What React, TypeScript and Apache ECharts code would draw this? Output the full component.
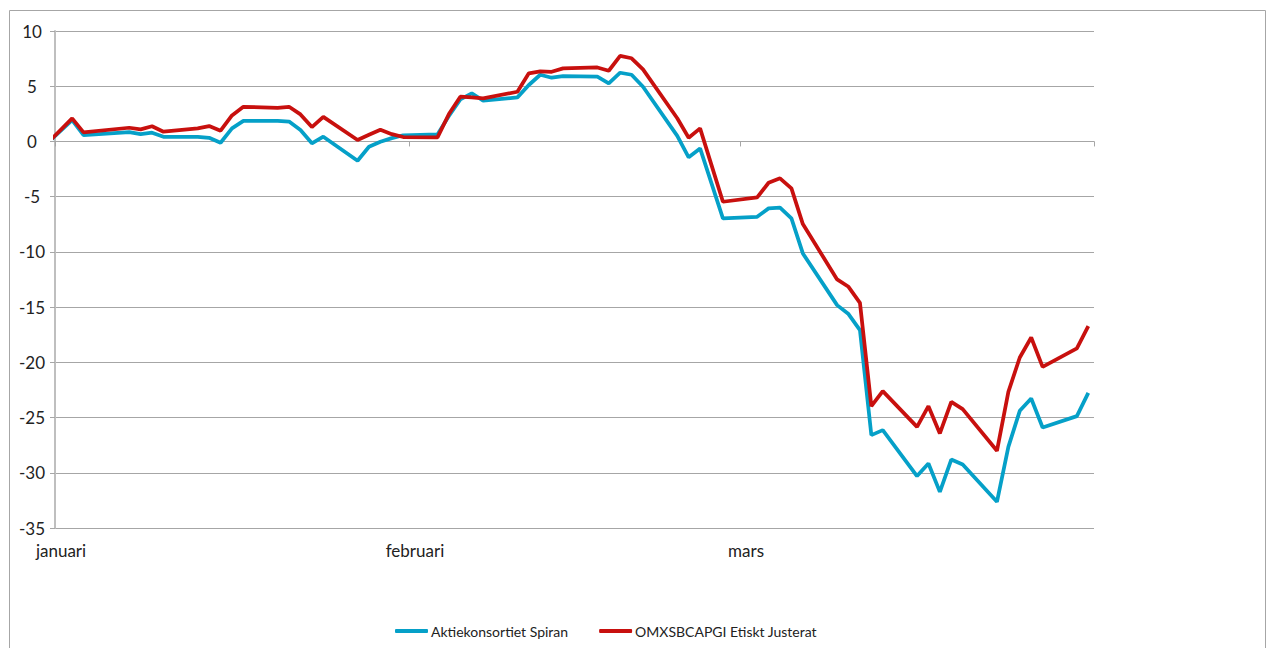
import React, { useEffect, useRef } from 'react';
import * as echarts from 'echarts';

const monthLabels = ['januari', 'februari', 'mars'];

const dates = [
  '2019-12-31',
  '2020-01-02', '2020-01-03', '2020-01-07', '2020-01-08', '2020-01-09', '2020-01-10',
  '2020-01-13', '2020-01-14', '2020-01-15', '2020-01-16', '2020-01-17',
  '2020-01-20', '2020-01-21', '2020-01-22', '2020-01-23', '2020-01-24',
  '2020-01-27', '2020-01-28', '2020-01-29', '2020-01-30', '2020-01-31',
  '2020-02-03', '2020-02-04', '2020-02-05', '2020-02-06', '2020-02-07',
  '2020-02-10', '2020-02-11', '2020-02-12', '2020-02-13', '2020-02-14',
  '2020-02-17', '2020-02-18', '2020-02-19', '2020-02-20', '2020-02-21',
  '2020-02-24', '2020-02-25', '2020-02-26', '2020-02-27', '2020-02-28',
  '2020-03-02', '2020-03-03', '2020-03-04', '2020-03-05', '2020-03-06',
  '2020-03-09', '2020-03-10', '2020-03-11', '2020-03-12', '2020-03-13',
  '2020-03-16', '2020-03-17', '2020-03-18', '2020-03-19', '2020-03-20',
  '2020-03-23', '2020-03-24', '2020-03-25', '2020-03-26', '2020-03-27',
  '2020-03-30', '2020-03-31',
];

const spiran = [
  0,
  1.94, 0.58, 0.85, 0.67, 0.79, 0.42,
  0.42, 0.33, -0.12, 1.18, 1.86,
  1.86, 1.8, 1.03, -0.17, 0.43,
  -1.75, -0.48, -0.03, 0.3, 0.56,
  0.64, 2.3, 3.81, 4.36, 3.69,
  3.99, 5.11, 6.04, 5.77, 5.92,
  5.86, 5.26, 6.22, 6.04, 4.95,
  0.5, -1.44, -0.63, -3.8, -6.97,
  -6.82, -6.06, -6.0, -6.97, -10.14,
  -14.82, -15.63, -17.08, -26.59, -26.14,
  -30.3, -29.16, -31.73, -28.8, -29.25,
  -32.63, -27.65, -24.39, -23.27, -25.9,
  -24.87, -22.76,
];

const omxEtisk = [
  0,
  2.09, 0.82, 1.24, 1.09, 1.37, 0.88,
  1.18, 1.39, 0.97, 2.36, 3.14,
  3.05, 3.14, 2.45, 1.3, 2.22,
  0.13, 0.6, 1.06, 0.66, 0.4,
  0.37, 2.48, 4.05, 3.99, 3.9,
  4.5, 6.17, 6.35, 6.31, 6.62,
  6.7, 6.4, 7.74, 7.53, 6.53,
  2.1, 0.34, 1.18, -2.14, -5.46,
  -5.07, -3.74, -3.34, -4.25, -7.48,
  -12.49, -13.16, -14.61, -23.97, -22.61,
  -25.84, -23.97, -26.44, -23.58, -24.24,
  -28.01, -22.67, -19.56, -17.75, -20.41,
  -18.74, -16.72,
];

const seriesNames = ['Aktiekonsortiet Spiran', 'OMXSBCAPGI Etiskt Justerat'];

const yMin = -35;
const yMax = 10;
const yStep = 5;

const DAY = 86400000;
const origin = Date.UTC(2020, 0, 1);
// days since 1 Jan 2020; a day's point sits in the middle of its slot
const dayPos = (s: string) => {
  const [y, m, d] = s.split('-').map(Number);
  return (Date.UTC(y, m - 1, d) - origin) / DAY + 0.5;
};
const monthStart = (m: number) => (Date.UTC(2020, m, 1) - origin) / DAY;

export default function App() {
  const ref = useRef<HTMLDivElement>(null);

  useEffect(() => {
    const chart = echarts.init(ref.current!, null, { renderer: 'svg' });
    const monthStarts = [0, 1, 2, 3].map(monthStart);
    const font = 'Lato';

    chart.setOption({
      animation: false,
      backgroundColor: '#ffffff',
      graphic: [
        {
          type: 'rect',
          shape: { x: 9.5, y: 10.5, width: 1256, height: 700 },
          style: { fill: 'none', stroke: '#a6a6a6', lineWidth: 1 },
          silent: true,
          z: -10,
        },
      ],
      grid: { left: 55, top: 31, width: 1039, height: 497, containLabel: false },
      legend: {
        left: 390,
        top: 619,
        itemWidth: 33,
        itemHeight: 4,
        itemGap: 31,
        icon: 'roundRect',
        textStyle: { fontFamily: font, fontSize: 14, color: '#222', padding: [0, 0, 0, -2] },
        data: seriesNames,
      },
      xAxis: [
        {
          type: 'value',
          min: monthStarts[0],
          max: monthStarts[3],
          axisLine: { show: true, onZero: true, lineStyle: { color: '#a6a6a6', width: 1 } },
          axisTick: {
            show: true,
            length: 5,
            customValues: monthStarts,
            lineStyle: { color: '#a6a6a6' },
          },
          axisLabel: { show: false },
          splitLine: { show: false },
        },
        {
          type: 'value',
          min: monthStarts[0],
          max: monthStarts[3],
          position: 'bottom',
          axisLine: { show: false, onZero: false },
          axisTick: { show: false },
          splitLine: { show: false },
          axisLabel: {
            show: true,
            customValues: monthStarts.slice(0, 3),
            margin: 14,
            fontFamily: font,
            fontSize: 17,
            color: '#222',
            padding: [0, 0, 0, 12],
            formatter: (v: number) => {
              const i = monthStarts.indexOf(v);
              return i >= 0 && i < monthLabels.length ? monthLabels[i] : '';
            },
          },
        },
      ],
      yAxis: {
        type: 'value',
        min: yMin,
        max: yMax,
        interval: yStep,
        axisLine: { show: true, lineStyle: { color: '#bfbfbf', width: 2 } },
        axisTick: { show: true, length: 5, lineStyle: { color: '#a6a6a6' } },
        splitLine: { show: true, lineStyle: { color: '#a6a6a6', width: 1 } },
        axisLabel: {
          fontFamily: font,
          fontSize: 17,
          color: '#222',
          align: 'center',
          margin: 23,
        },
      },
      series: [
        {
          name: seriesNames[0],
          type: 'line',
          xAxisIndex: 0,
          symbol: 'none',
          clip: true,
          color: '#05a0c8',
          lineStyle: { width: 3.75, color: '#05a0c8' },
          data: dates.map((d, i) => [dayPos(d), spiran[i]]),
        },
        {
          name: seriesNames[1],
          type: 'line',
          xAxisIndex: 0,
          symbol: 'none',
          clip: true,
          color: '#c8100e',
          lineStyle: { width: 3.75, color: '#c8100e' },
          data: dates.map((d, i) => [dayPos(d), omxEtisk[i]]),
        },
      ],
    });

    return () => chart.dispose();
  }, []);

  return (
    <div
      ref={ref}
      style={{ position: 'fixed', left: 0, top: 0, width: 1269, height: 648, background: '#fff' }}
    />
  );
}
